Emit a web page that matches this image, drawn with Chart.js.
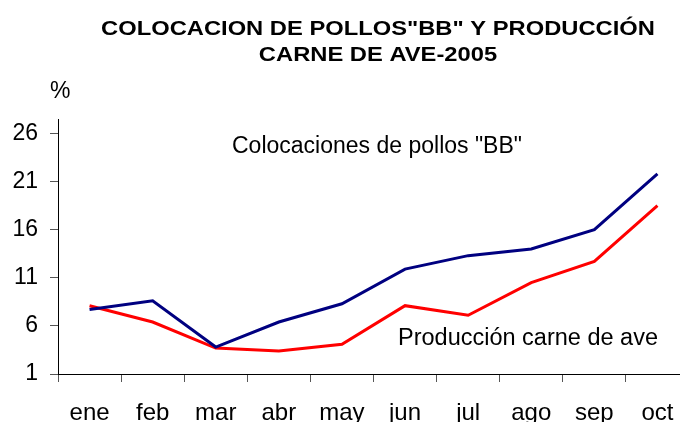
<!DOCTYPE html>
<html>
<head>
<meta charset="utf-8">
<script src="https://cdn.jsdelivr.net/npm/chart.js@4/dist/chart.umd.min.js"></script>
<style>
    html, body { margin: 0; padding: 0; background: #fff; overflow: hidden; }
    #wrap { position: relative; width: 700px; height: 422px; }
</style>
</head>
<body>
<div id="wrap"><canvas id="chart"></canvas></div>
<script>
// Chart data
const months = ['ene', 'feb', 'mar', 'abr', 'may', 'jun', 'jul', 'ago', 'sep', 'oct'];
const colocaciones = [7.7, 8.6, 3.8, 6.4, 8.3, 11.9, 13.3, 14.0, 16.0, 21.8];
const produccion = [8.1, 6.4, 3.7, 3.4, 4.1, 8.1, 7.1, 10.5, 12.7, 18.5];
const yTicks = [1, 6, 11, 16, 21, 26];

const titleLines = ['COLOCACION DE POLLOS"BB" Y PRODUCCIÓN', 'CARNE DE AVE-2005'];
const FONT = "'Liberation Sans', Arial, sans-serif";

// Draws the title, the % unit and the two series labels
const textPlugin = {
    id: 'texts',
    afterDraw(chart) {
        const ctx = chart.ctx;
        ctx.save();
        ctx.fillStyle = '#000';
        ctx.textBaseline = 'alphabetic';

        // title is a bit wider than plain 21px bold, stretch it sideways
        ctx.save();
        ctx.font = 'bold 21px ' + FONT;
        ctx.textAlign = 'center';
        ctx.translate(378, 0);
        ctx.scale(1.13, 1);
        ctx.fillText(titleLines[0], 0, 35);
        ctx.fillText(titleLines[1], 0, 61);
        ctx.restore();

        ctx.font = '23px ' + FONT;
        ctx.textAlign = 'left';
        ctx.fillText('%', 50, 98);
        ctx.fillText('Colocaciones de pollos "BB"', 232, 153);

        ctx.font = '23.5px ' + FONT;
        ctx.fillText('Producción carne de ave', 398, 345);
        ctx.restore();
    }
};

new Chart(document.getElementById('chart'), {
    type: 'line',
    data: {
        labels: months,
        datasets: [
            {
                label: 'Colocaciones de pollos "BB"',
                data: colocaciones,
                borderColor: '#000080',
                borderWidth: 3,
                pointRadius: 0,
                tension: 0
            },
            {
                label: 'Producción carne de ave',
                data: produccion,
                borderColor: '#ff0000',
                borderWidth: 3,
                pointRadius: 0,
                tension: 0
            }
        ]
    },
    options: {
        responsive: true,
        maintainAspectRatio: false,
        animation: false,
        layout: { padding: { top: 119, right: 11, left: 0, bottom: 0 } },
        plugins: {
            legend: { display: false },
            title: { display: false },
            tooltip: { enabled: false }
        },
        scales: {
            x: {
                offset: true,
                grid: {
                    offset: true,
                    drawOnChartArea: false,
                    drawTicks: true,
                    tickLength: 8,
                    color: '#555'
                },
                border: { display: true, color: '#000', width: 1 },
                ticks: {
                    color: '#000',
                    font: { family: FONT, size: 24 },
                    padding: 17,
                    maxRotation: 0,
                    autoSkip: false
                },
                afterFit(scale) { scale.height = 48; }
            },
            y: {
                min: 1,
                max: 27.5,
                grid: {
                    drawOnChartArea: false,
                    drawTicks: true,
                    tickLength: 8,
                    color: '#555'
                },
                border: { display: true, color: '#000', width: 1 },
                ticks: {
                    color: '#000',
                    font: { family: FONT, size: 23 },
                    padding: 12
                },
                afterBuildTicks(scale) {
                    scale.ticks = yTicks.map(v => ({ value: v }));
                },
                afterFit(scale) { scale.width = 58; }
            }
        }
    },
    plugins: [textPlugin]
});
</script>
</body>
</html>
